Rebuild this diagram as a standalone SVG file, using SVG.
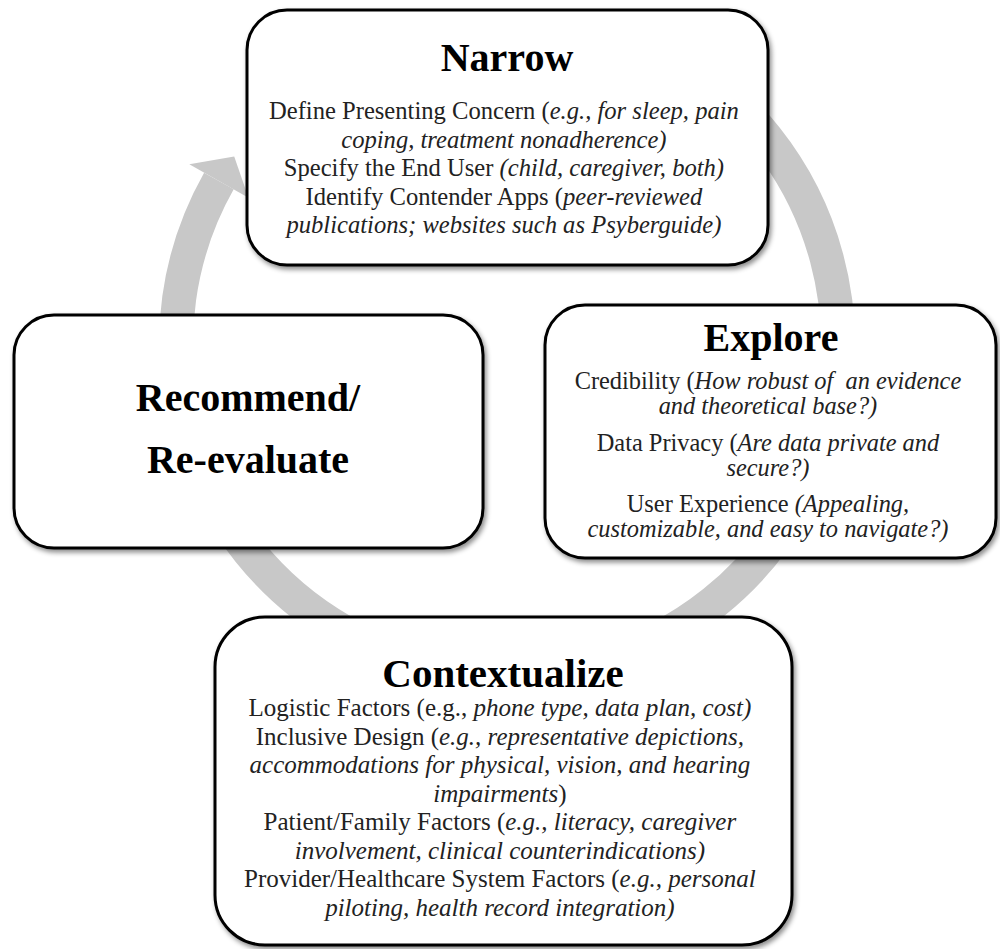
<svg xmlns="http://www.w3.org/2000/svg" width="1000" height="949" viewBox="0 0 1000 949">
<defs>
<filter id="sh" x="-5%" y="-5%" width="115%" height="115%">
<feDropShadow dx="2" dy="3" stdDeviation="2.5" flood-color="#000" flood-opacity="0.45"/>
</filter>
<style>
.box{fill:#fff;stroke:#000;stroke-width:3;filter:url(#sh)}
.title{font-family:"Liberation Serif","Times New Roman",serif;font-weight:bold;fill:#000;text-anchor:middle}
.body{font-family:"Liberation Serif","Times New Roman",serif;fill:#222;text-anchor:middle;white-space:pre}
.i{font-style:italic}
.arc{fill:none;stroke:#c8c8c8;stroke-width:34}
</style>
</defs>
<rect width="1000" height="949" fill="#fff"/>
<g id="connectors">
<path class="arc" d="M672.5,57.3 A331,331 0 1 1 218.9,181.0"/>
<polygon points="189.3,164.3 234.2,156.5 248.5,197.8" fill="#c8c8c8"/>
</g>
<g id="narrow">
<rect class="box" x="247" y="10" width="521" height="255" rx="40"/>
<text class="title" x="507" y="71" font-size="40">Narrow</text>
<text class="body" font-size="24.6">
<tspan x="507" y="119">Define Presenting Concern (<tspan class="i">e.g., for sleep, pain</tspan></tspan>
<tspan x="507" y="147.5" class="i">coping, treatment nonadherence)</tspan>
<tspan x="507" y="176">Specify the End User <tspan class="i">(child, caregiver, both)</tspan></tspan>
<tspan x="507" y="204.5">Identify Contender Apps (<tspan class="i">peer-reviewed</tspan></tspan>
<tspan x="507" y="233" class="i">publications; websites such as Psyberguide)</tspan>
</text>
</g>
<g id="explore">
<rect class="box" x="545" y="305" width="451" height="253" rx="40"/>
<text class="title" x="771" y="351" font-size="40">Explore</text>
<text class="body" font-size="24.4">
<tspan x="771" y="389">Credibility (<tspan class="i">How robust of  an evidence</tspan></tspan>
<tspan x="771" y="414" class="i">and theoretical base?)</tspan>
<tspan x="771" y="451">Data Privacy (<tspan class="i">Are data private and</tspan></tspan>
<tspan x="771" y="476" class="i">secure?)</tspan>
<tspan x="771" y="512">User Experience <tspan class="i">(Appealing,</tspan></tspan>
<tspan x="771" y="537" class="i">customizable, and easy to navigate?)</tspan>
</text>
</g>
<g id="recommend">
<rect class="box" x="14" y="315" width="469" height="233" rx="40"/>
<text class="title" x="248" y="411" font-size="40">Recommend/</text>
<text class="title" x="248" y="473" font-size="40">Re-evaluate</text>
</g>
<g id="contextualize">
<rect class="box" x="215" y="617" width="577" height="328" rx="50"/>
<text class="title" x="503" y="687" font-size="41">Contextualize</text>
<text class="body" font-size="25">
<tspan x="503" y="716">Logistic Factors (e.g., <tspan class="i">phone type, data plan, cost)</tspan></tspan>
<tspan x="503" y="744.5">Inclusive Design (<tspan class="i">e.g., representative depictions,</tspan></tspan>
<tspan x="503" y="773" class="i">accommodations for physical, vision, and hearing</tspan>
<tspan x="503" y="801.5"><tspan class="i">impairments</tspan>)</tspan>
<tspan x="503" y="830">Patient/Family Factors (<tspan class="i">e.g., literacy, caregiver</tspan></tspan>
<tspan x="503" y="858.5" class="i">involvement, clinical counterindications)</tspan>
<tspan x="503" y="887">Provider/Healthcare System Factors (<tspan class="i">e.g., personal</tspan></tspan>
<tspan x="503" y="915.5" class="i">piloting, health record integration)</tspan>
</text>
</g>
</svg>
